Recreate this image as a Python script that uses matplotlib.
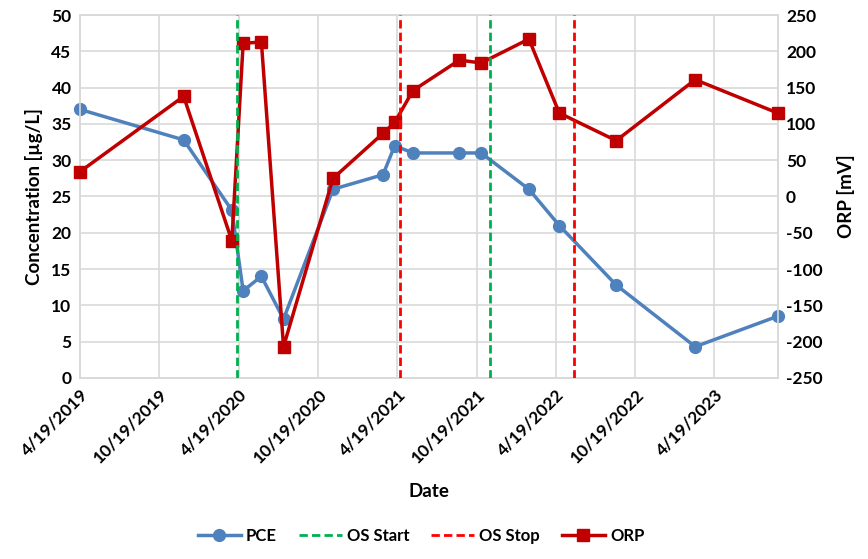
import numpy as np
import matplotlib
matplotlib.use("Agg")
import matplotlib.pyplot as plt
from matplotlib.lines import Line2D

plt.rcParams['font.family'] = ['Lato', 'DejaVu Sans']
plt.rcParams['font.weight'] = 'bold'
plt.rcParams['axes.unicode_minus'] = False

# sampling dates (shared by PCE and ORP)
dates = np.array(['2019-04-19', '2019-12-14', '2020-04-03', '2020-04-29', '2020-06-10',
                  '2020-07-31', '2020-11-22', '2021-03-17', '2021-04-13', '2021-05-25',
                  '2021-09-09', '2021-10-29', '2022-02-16', '2022-04-27', '2022-09-05',
                  '2023-03-06', '2023-09-12'], dtype='datetime64[D]')
pce = [37, 32.8, 23.1, 12, 14, 8.1, 26, 28, 32, 31, 31, 31, 26, 21, 12.8, 4.3, 8.5]
orp = [34, 138, -61, 211, 213, -207, 25, 87, 102, 146, 188, 184, 217, 115, 77, 161, 115]

os_start = np.array(['2020-04-15', '2021-11-19'], dtype='datetime64[D]')
os_stop = np.array(['2021-04-26', '2022-05-30'], dtype='datetime64[D]')

tick_dates = np.array(['2019-04-19', '2019-10-19', '2020-04-19', '2020-10-19', '2021-04-19',
                       '2021-10-19', '2022-04-19', '2022-10-19', '2023-04-19'], dtype='datetime64[D]')
tick_labels = ['4/19/2019', '10/19/2019', '4/19/2020', '10/19/2020', '4/19/2021',
               '10/19/2021', '4/19/2022', '10/19/2022', '4/19/2023']

blue = '#4F81BD'
dark_red = '#C00000'
green = '#00B050'
red = '#FF0000'
grid_c = '#D9D9D9'

fig, ax = plt.subplots(figsize=(8.68, 5.59), dpi=100)
fig.subplots_adjust(left=0.092, right=0.896, top=0.973, bottom=0.324)

ax.plot(dates, pce, color=blue, lw=2.5, marker='o', ms=8.5, zorder=3, clip_on=False)
ax.set_ylim(0, 50)
ax.set_yticks(np.arange(0, 51, 5))
ax.set_xlim(dates[0], dates[-1])
ax.set_xticks(tick_dates)
ax.set_xticklabels(tick_labels, rotation=45, ha='right', rotation_mode='anchor')
ax.grid(True, color=grid_c, lw=1.2)
ax.set_axisbelow(True)
ax.set_ylabel('Concentration [µg/L]', fontsize=13.5, fontweight='bold', labelpad=6)
ax.set_xlabel('Date', fontsize=13.5, fontweight='bold', labelpad=12)

ax2 = ax.twinx()
ax2.plot(dates, orp, color=dark_red, lw=2.5, marker='s', ms=8.5, zorder=3, clip_on=False)
for d in os_start:
    ax2.axvline(d, color=green, lw=2, ls=(0, (3, 1.5)), zorder=4)
for d in os_stop:
    ax2.axvline(d, color=red, lw=2, ls=(0, (3, 1.5)), zorder=4)
ax2.set_ylim(-250, 250)
ax2.set_yticks(np.arange(-250, 251, 50))
ax2.set_ylabel('ORP [mV]', fontsize=13.5, fontweight='bold', labelpad=10)

for a in (ax, ax2):
    a.tick_params(length=0, labelsize=12.5, pad=6)
    for s in a.spines.values():
        s.set_color(grid_c)
        s.set_linewidth(1.2)
for lab in ax.get_xticklabels() + ax.get_yticklabels() + ax2.get_yticklabels():
    lab.set_fontweight('bold')

handles = [
    Line2D([], [], color=blue, lw=2.5, marker='o', ms=8.5),
    Line2D([], [], color=green, lw=2, ls=(0, (3, 1.5))),
    Line2D([], [], color=red, lw=2, ls=(0, (3, 1.5))),
    Line2D([], [], color=dark_red, lw=2.5, marker='s', ms=8.5),
]
fig.legend(handles, ['PCE', 'OS Start', 'OS Stop', 'ORP'], loc='lower center',
           bbox_to_anchor=(0.485, 0.0), ncol=4, frameon=False, fontsize=12,
           handlelength=2.6, handletextpad=0.3, columnspacing=1.3)

fig.savefig('out.png', dpi=100)
